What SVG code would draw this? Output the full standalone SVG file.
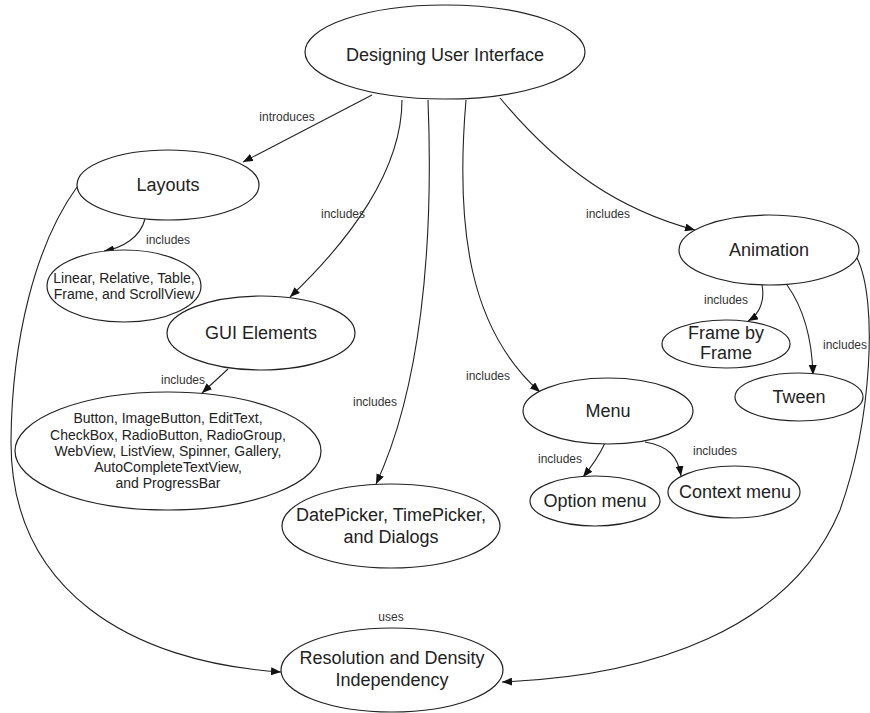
<svg xmlns="http://www.w3.org/2000/svg" width="870" height="713" viewBox="0 0 870 713">
<defs>
<style>
.n ellipse{fill:#fff;stroke:#222;stroke-width:1.2}
.t{font-family:"Liberation Sans",Arial,sans-serif;font-size:18px;fill:#222;text-anchor:middle}
.s{font-family:"Liberation Sans",Arial,sans-serif;font-size:14px;fill:#222;text-anchor:middle}
.l{font-family:"Liberation Sans",Arial,sans-serif;font-size:12px;fill:#333;text-anchor:middle}
#edges path{fill:none;stroke:#222;stroke-width:1.1;marker-end:url(#arr)}
</style>
<marker id="arr" viewBox="0 0 10 8" refX="10" refY="4" markerWidth="10" markerHeight="8" markerUnits="userSpaceOnUse" orient="auto">
<path d="M0,0 L10,4 L0,8 z" fill="#111"/>
</marker>
</defs>
<rect width="870" height="713" fill="#fff"/>
<g id="edges">
<path d="M372,95 L243,162"/>
<path d="M402,100 C402,170 350,240 290,297"/>
<path d="M428,100 C434,250 420,390 376,484"/>
<path d="M466,100 C455,230 470,330 540,392"/>
<path d="M500,98 C560,170 620,210 695,230"/>
<path d="M145,219 C140,238 122,248 104,251"/>
<path d="M228,369 L202,393"/>
<path d="M605,443 C598,458 592,466 583,477"/>
<path d="M645,442 C668,446 678,456 681,476"/>
<path d="M762,285 C765,300 760,314 748,321"/>
<path d="M787,285 C805,310 812,340 813,375"/>
<path d="M77,187 C35,245 12,340 11,440 C10,590 130,662 281,672"/>
<path d="M857,258 C878,300 872,420 840,510 C790,630 650,676 502,682"/>
</g>
<g id="edge-labels">
<text class="l" x="287" y="121">introduces</text>
<text class="l" x="343" y="218">includes</text>
<text class="l" x="375" y="406">includes</text>
<text class="l" x="488" y="380">includes</text>
<text class="l" x="608" y="218">includes</text>
<text class="l" x="168" y="244">includes</text>
<text class="l" x="183" y="384">includes</text>
<text class="l" x="560" y="463">includes</text>
<text class="l" x="715" y="455">includes</text>
<text class="l" x="726" y="304">includes</text>
<text class="l" x="845" y="349">includes</text>
<text class="l" x="391" y="621">uses</text>
</g>
<g id="n-dui" class="n"><ellipse cx="445" cy="52" rx="140" ry="47"/><text class="t" x="445" y="61">Designing User Interface</text></g>
<g id="n-layouts" class="n"><ellipse cx="168" cy="185" rx="91" ry="35"/><text class="t" x="168" y="191">Layouts</text></g>
<g id="n-linear" class="n"><ellipse cx="124" cy="286" rx="77" ry="36"/><text class="s" x="124" y="283">Linear, Relative, Table,</text><text class="s" x="124" y="299">Frame, and ScrollView</text></g>
<g id="n-gui" class="n"><ellipse cx="261" cy="333" rx="94" ry="37"/><text class="t" x="261" y="339">GUI Elements</text></g>
<g id="n-widgets" class="n"><ellipse cx="168" cy="451" rx="153" ry="59"/>
<text class="s" x="168" y="423">Button, ImageButton, EditText,</text>
<text class="s" x="168" y="440">CheckBox, RadioButton, RadioGroup,</text>
<text class="s" x="168" y="456">WebView, ListView, Spinner, Gallery,</text>
<text class="s" x="168" y="472">AutoCompleteTextView,</text>
<text class="s" x="168" y="488">and ProgressBar</text></g>
<g id="n-date" class="n"><ellipse cx="391" cy="526" rx="109" ry="42"/><text class="t" x="391" y="521">DatePicker, TimePicker,</text><text class="t" x="391" y="543">and Dialogs</text></g>
<g id="n-menu" class="n"><ellipse cx="608" cy="411" rx="85" ry="33"/><text class="t" x="608" y="417">Menu</text></g>
<g id="n-option" class="n"><ellipse cx="595" cy="501" rx="65" ry="25"/><text class="t" x="595" y="507">Option menu</text></g>
<g id="n-context" class="n"><ellipse cx="734" cy="492" rx="66" ry="26"/><text class="t" x="735" y="498">Context menu</text></g>
<g id="n-anim" class="n"><ellipse cx="769" cy="250" rx="90" ry="35"/><text class="t" x="769" y="256">Animation</text></g>
<g id="n-fbf" class="n"><ellipse cx="726" cy="344" rx="64" ry="24"/><text class="t" x="726" y="339">Frame by</text><text class="t" x="726" y="359">Frame</text></g>
<g id="n-tween" class="n"><ellipse cx="799" cy="397" rx="64" ry="24"/><text class="t" x="799" y="403">Tween</text></g>
<g id="n-res" class="n"><ellipse cx="392" cy="670" rx="111" ry="42"/><text class="t" x="392" y="664">Resolution and Density</text><text class="t" x="392" y="686">Independency</text></g>
</svg>
